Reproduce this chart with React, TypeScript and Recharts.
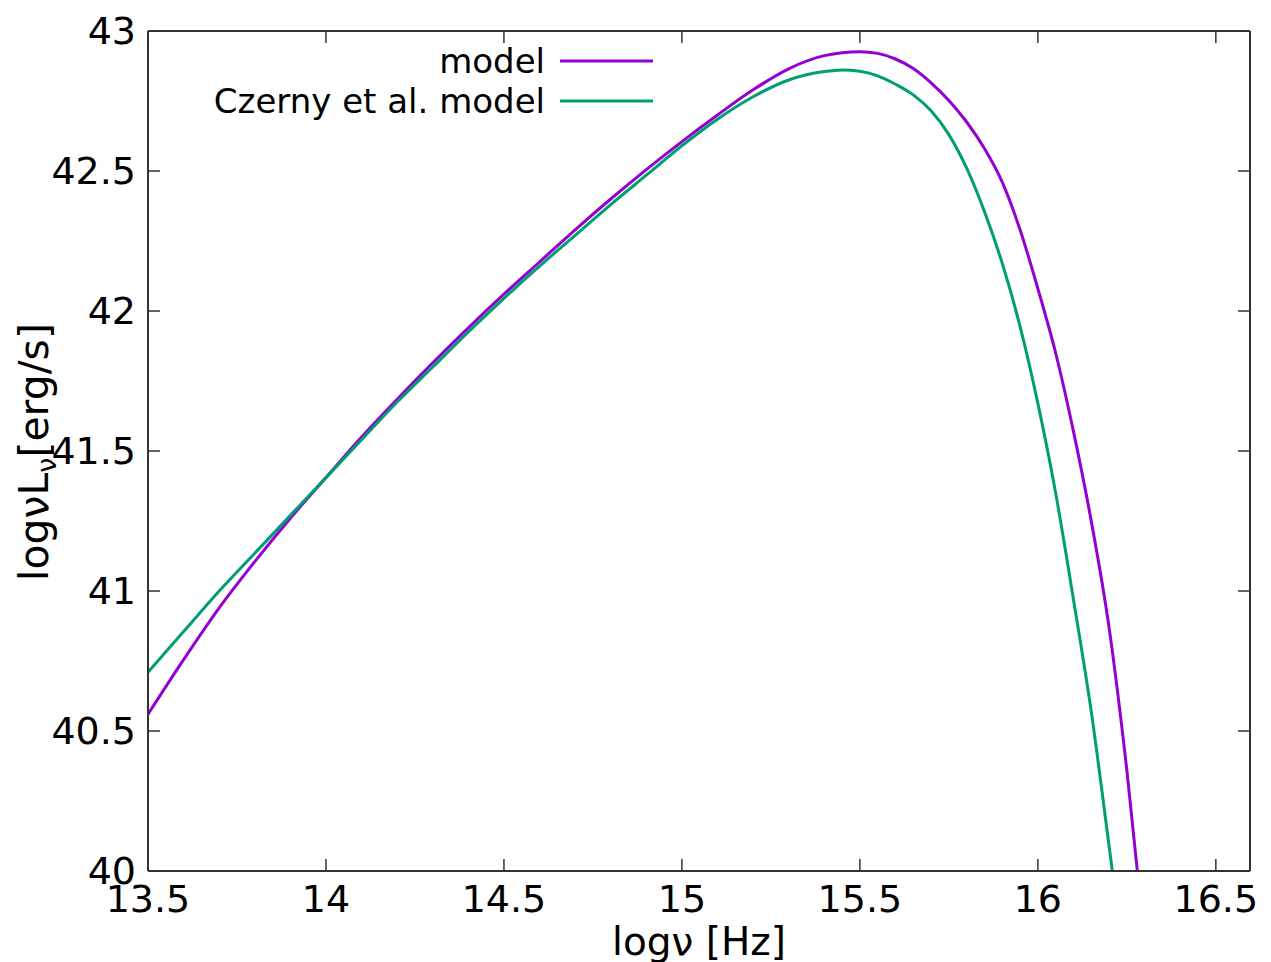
import { Legend, Line, LineChart, XAxis, YAxis } from "recharts";

const xTicks = [13.5, 14, 14.5, 15, 15.5, 16, 16.5];
const yTicks = [40, 40.5, 41, 41.5, 42, 42.5, 43];
const seriesNames = ["model", "Czerny et al. model"];

// "model" curve
const modelNu = [
  13.5, 13.6, 13.7, 13.8, 13.9, 14.0, 14.1, 14.2, 14.3, 14.4, 14.5, 14.6, 14.7,
  14.8, 14.9, 15.0, 15.1, 15.2, 15.3, 15.4, 15.5, 15.55, 15.6, 15.65, 15.7,
  15.75, 15.8, 15.85, 15.9, 15.95, 16.0, 16.05, 16.1, 16.15, 16.2, 16.25, 16.3
];
const modelL = [
  40.56, 40.755, 40.94, 41.105, 41.26, 41.405, 41.55, 41.685, 41.815, 41.94,
  42.06, 42.175, 42.29, 42.4, 42.505, 42.605, 42.7, 42.79, 42.865, 42.912,
  42.926, 42.92, 42.9, 42.866, 42.815, 42.752, 42.675, 42.58, 42.46, 42.29,
  42.08, 41.85, 41.57, 41.25, 40.87, 40.36, 39.75
];

// Czerny et al. curve
const czernyNu = [
  13.5, 13.6, 13.7, 13.8, 13.9, 14.0, 14.1, 14.2, 14.3, 14.4, 14.5, 14.6, 14.7,
  14.8, 14.9, 15.0, 15.1, 15.2, 15.3, 15.4, 15.45, 15.5, 15.55, 15.6, 15.65,
  15.7, 15.75, 15.8, 15.85, 15.9, 15.95, 16.0, 16.05, 16.1, 16.15, 16.2, 16.25
];
const czernyL = [
  40.71, 40.855, 41.0, 41.135, 41.27, 41.405, 41.54, 41.675, 41.8, 41.925,
  42.045, 42.16, 42.27, 42.38, 42.485, 42.59, 42.685, 42.765, 42.825, 42.855,
  42.861, 42.856, 42.84, 42.81, 42.772, 42.715, 42.63, 42.51, 42.355, 42.17,
  41.945, 41.67, 41.35, 40.97, 40.57, 40.09, 39.6
];

const modelData = modelNu.map((x, i) => ({ x, y: modelL[i] }));
const czernyData = czernyNu.map((x, i) => ({ x, y: czernyL[i] }));

const FONT = "'DejaVu Sans', Verdana, sans-serif";
const AXIS = "#333";

function LegendBox(props: any) {
  const items = [...(props.payload || [])].sort(
    (a: any, b: any) => seriesNames.indexOf(a.value) - seriesNames.indexOf(b.value)
  );
  return (
    <svg width={470} height={90} style={{ fontFamily: FONT }}>
      {items.map((it: any, i: number) => (
        <g key={it.value}>
          <text x={345} y={21 + 40 * i} textAnchor="end" dominantBaseline="central" fontSize={34} fill="#000">
            {it.value}
          </text>
          <line x1={360} x2={453} y1={21 + 40 * i} y2={21 + 40 * i} stroke={it.color} strokeWidth={3} />
        </g>
      ))}
    </svg>
  );
}

export default function App() {
  return (
    <div style={{ position: "absolute", left: 0, top: 0, background: "#fff" }}>
      <LineChart
        width={1271}
        height={962}
        margin={{ top: 30, right: 20, bottom: 51, left: 88 }}
        style={{ fontFamily: FONT }}
      >
        <XAxis
          xAxisId="b"
          type="number"
          dataKey="x"
          domain={[13.5, 16.596]}
          allowDataOverflow
          ticks={xTicks}
          interval={0}
          height={40}
          tickSize={-12}
          tickMargin={26}
          tick={{ fontSize: 38, fill: "#000" }}
          axisLine={{ stroke: AXIS, strokeWidth: 2 }}
          tickLine={{ stroke: AXIS, strokeWidth: 1.5 }}
          label={{
            content: (p: any) => {
              const vb = p.viewBox;
              return (
                <text x={vb.x + vb.width / 2} y={955} textAnchor="middle" fontSize={39} fill="#000">
                  logν [Hz]
                </text>
              );
            }
          }}
        />
        <XAxis
          xAxisId="t"
          orientation="top"
          type="number"
          dataKey="x"
          domain={[13.5, 16.596]}
          allowDataOverflow
          ticks={xTicks}
          interval={0}
          height={1}
          tickSize={-12}
          tickFormatter={() => ""}
          axisLine={{ stroke: AXIS, strokeWidth: 2 }}
          tickLine={{ stroke: AXIS, strokeWidth: 1.5 }}
        />
        <YAxis
          yAxisId="l"
          type="number"
          domain={[40, 43]}
          allowDataOverflow
          ticks={yTicks}
          interval={0}
          width={60}
          tickSize={-12}
          tickMargin={24}
          tick={{ fontSize: 38, fill: "#000" }}
          axisLine={{ stroke: AXIS, strokeWidth: 2 }}
          tickLine={{ stroke: AXIS, strokeWidth: 1.5 }}
          label={{
            content: (p: any) => {
              const vb = p.viewBox;
              const cy = vb.y + vb.height / 2 + 1;
              return (
                <text
                  x={48}
                  y={cy}
                  textAnchor="middle"
                  fontSize={41}
                  fill="#000"
                  transform={`rotate(-90, 48, ${cy})`}
                >
                  logνL
                  <tspan fontSize={27} dy={8}>ν</tspan>
                  <tspan dy={-8}>[erg/s]</tspan>
                </text>
              );
            }
          }}
        />
        <YAxis
          yAxisId="r"
          orientation="right"
          type="number"
          domain={[40, 43]}
          allowDataOverflow
          ticks={yTicks}
          interval={0}
          width={1}
          tickSize={-12}
          tickFormatter={() => ""}
          axisLine={{ stroke: AXIS, strokeWidth: 2 }}
          tickLine={{ stroke: AXIS, strokeWidth: 1.5 }}
        />
        <Legend
          layout="horizontal"
          verticalAlign="middle"
          align="center"
          wrapperStyle={{ top: 40, left: 200, width: 470, height: 90 }}
          content={<LegendBox />}
        />
        <Line
          xAxisId="b"
          yAxisId="l"
          data={modelData}
          dataKey="y"
          name="model"
          type="monotone"
          stroke="#9400d3"
          strokeWidth={3}
          dot={false}
          isAnimationActive={false}
        />
        <Line
          xAxisId="b"
          yAxisId="l"
          data={czernyData}
          dataKey="y"
          name="Czerny et al. model"
          type="monotone"
          stroke="#009e73"
          strokeWidth={3}
          dot={false}
          isAnimationActive={false}
        />
      </LineChart>
    </div>
  );
}
